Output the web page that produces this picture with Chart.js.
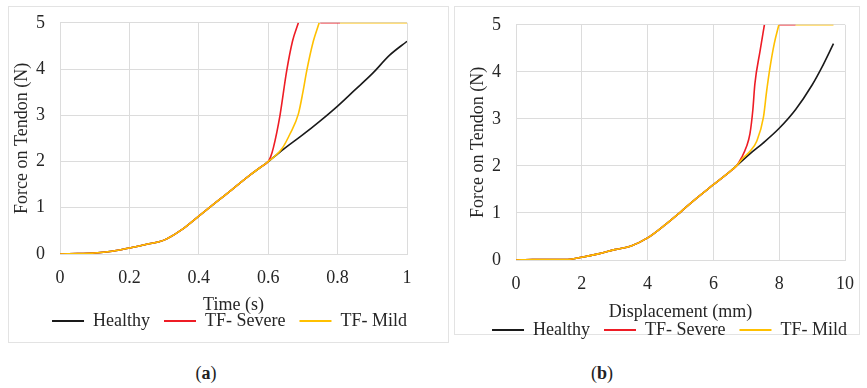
<!DOCTYPE html>
<html>
<head>
<meta charset="utf-8">
<script src="https://cdn.jsdelivr.net/npm/chart.js@4.4.0/dist/chart.umd.min.js"></script>
<style>
  body { margin: 0; background: #fff; width: 867px; height: 388px; position: relative; overflow: hidden; font-family: "Liberation Serif", serif; }
  .box { position: absolute; border: 1px solid #e3e3e3; box-sizing: border-box; }
  canvas { position: absolute; }
  .cap { position: absolute; font-size: 18px; color: #222; transform: translate(-50%, -50%); }
</style>
</head>
<body>
<div class="box" style="left:8px;top:6px;width:441px;height:337px"></div>
<div class="box" style="left:454px;top:6px;width:406px;height:329px"></div>
<canvas id="chartA" width="446" height="346" style="left:8px;top:-3px"></canvas>
<canvas id="chartB" width="430" height="353" style="left:454px;top:-1px"></canvas>
<div class="cap" style="left:206px;top:373px">(<b>a</b>)</div>
<div class="cap" style="left:602px;top:373px">(<b>b</b>)</div>
<script>
// panel (a): force vs time
const timeHealthy = [0, 0.05, 0.1, 0.15, 0.2, 0.25, 0.3, 0.35, 0.4, 0.45, 0.5, 0.55, 0.6, 0.65, 0.7, 0.75, 0.8, 0.85, 0.9, 0.95, 1];
const forceHealthyA = [0, 0.01, 0.02, 0.06, 0.13, 0.21, 0.3, 0.52, 0.82, 1.12, 1.42, 1.72, 2.0, 2.3, 2.58, 2.88, 3.2, 3.55, 3.9, 4.3, 4.6];
const timeSevere = [0, 0.05, 0.1, 0.15, 0.2, 0.25, 0.3, 0.35, 0.4, 0.45, 0.5, 0.55, 0.58, 0.6, 0.607, 0.615, 0.634, 0.653, 0.67, 0.687, 0.72, 0.75, 0.807];
const forceSevereA = [0, 0.01, 0.02, 0.06, 0.13, 0.21, 0.3, 0.52, 0.82, 1.12, 1.42, 1.72, 1.89, 2.0, 2.1, 2.3, 3.0, 3.95, 4.6, 5, null, 5, 5];
const timeMild = [0, 0.05, 0.1, 0.15, 0.2, 0.25, 0.3, 0.35, 0.4, 0.45, 0.5, 0.55, 0.6, 0.62, 0.64, 0.663, 0.687, 0.7, 0.711, 0.73, 0.747, 0.78, 0.807, 1];
const forceMildA = [0, 0.01, 0.02, 0.06, 0.13, 0.21, 0.3, 0.52, 0.82, 1.12, 1.42, 1.72, 2.0, 2.12, 2.28, 2.6, 3.03, 3.5, 3.96, 4.6, 5, null, 5, 5];

// panel (b): force vs displacement
const dispHealthy = [0, 0.5, 1, 1.5, 2, 2.5, 3, 3.5, 4, 4.5, 5, 5.5, 6, 6.5, 6.7, 7.1, 7.5, 8, 8.5, 9, 9.3, 9.65];
const forceHealthyB = [0, 0.01, 0.01, 0.01, 0.06, 0.13, 0.22, 0.3, 0.47, 0.73, 1.02, 1.32, 1.6, 1.88, 2.0, 2.25, 2.48, 2.8, 3.2, 3.72, 4.1, 4.6];
const dispSevere = [0, 0.5, 1, 1.5, 2, 2.5, 3, 3.5, 4, 4.5, 5, 5.5, 6, 6.5, 6.7, 6.86, 7.0, 7.11, 7.2, 7.26, 7.42, 7.55, 7.8, 8.0, 8.5];
const forceSevereB = [0, 0.01, 0.01, 0.01, 0.06, 0.13, 0.22, 0.3, 0.47, 0.73, 1.02, 1.32, 1.6, 1.88, 2.0, 2.18, 2.4, 2.68, 3.2, 3.74, 4.45, 5, null, 5, 5];
const dispMild = [0, 0.5, 1, 1.5, 2, 2.5, 3, 3.5, 4, 4.5, 5, 5.5, 6, 6.5, 6.7, 6.9, 7.1, 7.32, 7.52, 7.62, 7.72, 7.85, 7.99, 8.2, 8.5, 9.65];
const forceMildB = [0, 0.01, 0.01, 0.01, 0.06, 0.13, 0.22, 0.3, 0.47, 0.73, 1.02, 1.32, 1.6, 1.88, 2.0, 2.17, 2.3, 2.53, 3.03, 3.6, 4.09, 4.6, 5, null, 5, 5];

const seriesNames = ["Healthy", "TF- Severe", "TF- Mild"];
const seriesColors = ["#1a1a1a", "#ee1c25", "#ffc000"];

Chart.defaults.font.family = '"Liberation Serif", "Times New Roman", serif';
Chart.defaults.font.size = 18;
Chart.defaults.color = "#262626";

function zip(xs, ys) {
  return xs.map((x, i) => ({ x: x, y: ys[i] }));
}

function makeChart(id, xs, ys, opts) {
  const datasets = seriesNames.map((name, i) => ({
    label: name,
    data: zip(xs[i], ys[i]),
    borderColor: seriesColors[i],
    backgroundColor: seriesColors[i],
    borderWidth: 1.6,
    pointRadius: 0,
    cubicInterpolationMode: "monotone",
    order: 3 - i
  }));
  // nudge the legend row sideways so it sits under the plot like the original
  const shiftLegend = {
    id: "shiftLegend",
    afterLayout(chart) {
      chart.legend.left += opts.legendShift;
      chart.legend.right += opts.legendShift;
    }
  };
  return new Chart(id, {
    type: "line",
    data: { datasets: datasets },
    plugins: [shiftLegend],
    options: {
      responsive: false,
      animation: false,
      layout: { padding: opts.padding },
      plugins: {
        tooltip: { enabled: false },
        legend: {
          position: "bottom",
          labels: {
            boxWidth: 32,
            boxHeight: 2,
            padding: 14,
            sort: (a, b) => a.datasetIndex - b.datasetIndex,
            generateLabels: chart => Chart.defaults.plugins.legend.labels.generateLabels(chart).map(it => {
              it.lineWidth = 0;
              return it;
            })
          }
        }
      },
      scales: {
        x: {
          type: "linear",
          min: 0,
          max: opts.xMax,
          ticks: { stepSize: opts.xStep, padding: 13, callback: v => Math.round(v * 10) / 10 },
          grid: { color: "#dcdcdc", drawTicks: false },
          border: { color: "#dcdcdc" },
          title: { display: true, text: opts.xTitle, padding: { top: 0, bottom: opts.xTitlePad } },
          afterFit: s => { s.height = opts.xHeight; }
        },
        y: {
          min: 0,
          max: 5,
          ticks: { stepSize: 1, padding: 15 },
          grid: { color: "#dcdcdc", drawTicks: false },
          border: { color: "#dcdcdc" },
          title: { display: true, text: "Force on Tendon (N)", padding: { top: opts.yTitlePad, bottom: 0 } },
          afterFit: s => { s.width = opts.yWidth; }
        }
      }
    }
  });
}

const chartA = makeChart("chartA",
  [timeHealthy, timeSevere, timeMild],
  [forceHealthyA, forceSevereA, forceMildA],
  { padding: { left: 0, top: 7, right: 47, bottom: 3 }, xMax: 1, xStep: 0.2, xTitle: "Time (s)",
    xTitlePad: -18, xHeight: 44, yWidth: 52, yTitlePad: 3, legendShift: 22 });

const chartB = makeChart("chartB",
  [dispHealthy, dispSevere, dispMild],
  [forceHealthyB, forceSevereB, forceMildB],
  { padding: { left: 0, top: 9, right: 39, bottom: 3 }, xMax: 10, xStep: 2, xTitle: "Displacement (mm)",
    xTitlePad: -16, xHeight: 47, yWidth: 62, yTitlePad: 13, legendShift: 20 });
</script>
</body>
</html>
